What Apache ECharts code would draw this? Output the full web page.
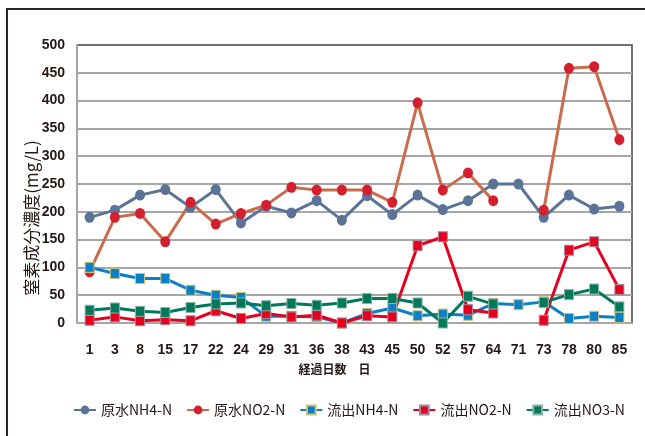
<!DOCTYPE html>
<html>
<head>
<meta charset="utf-8">
<script src="https://cdn.jsdelivr.net/npm/echarts@6/dist/echarts.min.js"></script>
<style>
  html, body { margin: 0; padding: 0; background: #fff; }
  #chart { width: 645px; height: 436px; }
</style>
</head>
<body>
<div id="chart"></div>
<script>
// 経過日数
const days = ['1', '3', '8', '15', '17', '22', '24', '29', '31', '36', '38', '43', '45', '50', '52', '57', '64', '71', '73', '78', '80', '85'];

// 窒素成分濃度 (mg/L), '-' = 欠測
const rawNH4 = [190, 203, 230, 240, 208, 240, 180, 210, 198, 220, 185, 229, 195, 230, 204, 220, 250, 250, 190, 230, 205, 210];
const rawNO2 = [92, 190, 197, 146, 217, 178, 197, 212, 244, 239, 239, 239, 217, 396, 239, 270, 220, '-', 203, 458, 461, 330];
const outNH4 = [100, 89, 80, 80, 59, 50, 46, 12, 12, 11, 0, 17, 27, 13, 16, 14, 35, 33, 38, 8, 12, 10];
const outNO2 = [5, 11, 4, 6, 4, 22, 8, 17, 11, 14, 0, 13, 11, 139, 155, 24, 18, '-', 5, 131, 146, 60];
const outNO3 = [23, 27, 21, 19, 28, 34, 36, 31, 35, 32, 36, 44, 44, 36, 0, 48, 34, '-', 37, 51, 61, 29];

const yTicks = { min: 0, max: 500, interval: 50 };

const numFont = "'Liberation Sans Narrow', 'Liberation Sans', sans-serif";
const cjkFont = "'Noto Sans CJK JP', 'Noto Sans', sans-serif";

function lineSeries(name, data, lineColor, dotColor, symbol, size, border) {
  return {
    name: name,
    type: 'line',
    data: data,
    symbol: symbol,
    symbolSize: size,
    connectNulls: false,
    lineStyle: { color: lineColor, width: 3 },
    itemStyle: {
      color: dotColor,
      borderColor: border || dotColor,
      borderWidth: border ? 1 : 0
    },
    emphasis: { disabled: true }
  };
}

const chart = echarts.init(document.getElementById('chart'), null, { renderer: 'canvas' });

chart.setOption({
  animation: false,
  backgroundColor: '#fff',
  grid: {
    left: 77, right: 13, top: 45, bottom: 113,
    show: true,
    borderColor: '#45403c',
    borderWidth: 1.5
  },
  legend: {
    left: 68, top: 398, width: 600,
    itemWidth: 22, itemHeight: 11,
    itemGap: 14,
    textStyle: { fontSize: 14, color: '#231815', fontFamily: cjkFont }
  },
  xAxis: {
    type: 'category',
    data: days,
    boundaryGap: true,
    name: '経過日数　日',
    nameLocation: 'middle',
    nameGap: 40,
    nameTextStyle: {
      fontSize: 12, fontWeight: 'bold', color: '#231815',
      fontFamily: cjkFont, padding: [0, 40, 0, 0]
    },
    axisLine: { show: true, lineStyle: { color: '#a6a6a6', width: 2 } },
    axisTick: { show: false },
    axisLabel: {
      margin: 20, fontSize: 14, fontWeight: 'bold', color: '#231815',
      fontFamily: numFont, interval: 0
    }
  },
  yAxis: {
    type: 'value',
    min: yTicks.min, max: yTicks.max, interval: yTicks.interval,
    axisLine: { show: true, lineStyle: { color: '#a6a6a6', width: 2 } },
    axisTick: { show: false },
    splitLine: { show: true, showMaxLine: false, lineStyle: { color: '#a6a6a6', width: 2 } },
    axisLabel: {
      margin: 12, fontSize: 14, fontWeight: 'bold', color: '#231815',
      fontFamily: numFont
    }
  },
  graphic: [{
    type: 'polyline',
    silent: true,
    shape: { points: [[7, 436], [7, 9], [645, 9]] },
    style: { stroke: '#2b2520', lineWidth: 2, fill: null }
  }, {
    // y axis title
    type: 'text',
    silent: true,
    x: 32, y: 218,
    rotation: Math.PI / 2,
    style: {
      text: '窒素成分濃度(mg/L)',
      fontSize: 17, fontFamily: cjkFont, fill: '#231815',
      align: 'center', verticalAlign: 'middle'
    }
  }],
  series: [
    lineSeries('原水NH4-N', rawNH4, '#5a7396', '#5a7396', 'circle', [10, 11]),
    lineSeries('原水NO2-N', rawNO2, '#c96b4c', '#d4202e', 'circle', [10, 11]),
    lineSeries('流出NH4-N', outNH4, '#0b80c6', '#0b80c6', 'rect', [9, 10], '#c9c27a'),
    lineSeries('流出NO2-N', outNO2, '#e6001f', '#e6001f', 'rect', [9, 10], '#a08c9a'),
    lineSeries('流出NO3-N', outNO3, '#00785a', '#00785a', 'rect', [9, 10], '#8fb0a8')
  ]
});
</script>
</body>
</html>
